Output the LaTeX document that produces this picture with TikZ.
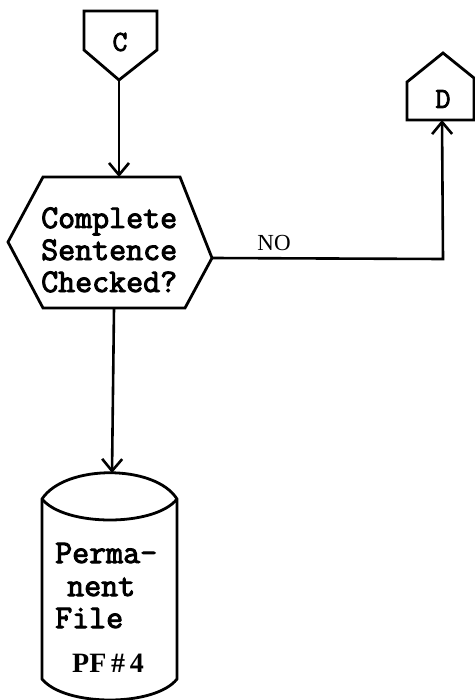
\documentclass[tikz,border=0pt]{standalone}
\usepackage{fontspec}
\setmainfont{Liberation Serif}
\newfontfamily\typer[FakeBold=3]{Latin Modern Mono}
\usetikzlibrary{arrows.meta}
\begin{document}
\begin{tikzpicture}[x=1pt,y=-1pt,
  outline/.style={line width=2.8pt,line join=miter},
  flow/.style={line width=2.6pt,-{Straight Barb[length=12pt,width=20pt,line width=2.6pt]}},
  typed/.style={font=\typer\fontsize{33}{31}\selectfont,inner sep=0pt,
    text height=20pt,text depth=6pt},
  conn/.style={font=\typer\fontsize{29}{29}\selectfont,inner sep=0pt},
  tag/.style={font=\fontsize{23}{23}\selectfont,inner sep=0pt},
  idtag/.style={font=\bfseries\fontsize{28}{28}\selectfont,inner sep=0pt}]
\useasboundingbox (0,0) rectangle (474,700);
\fill[white] (0,0) rectangle (474,700);

% off-page connector C
\draw[outline] (84,11) -- (157,11) -- (157,50) -- (119,80) -- (84,50) -- cycle;
\node[conn] (C) at (120,42) {C};
\coordinate (Cout) at (119,80);

% off-page connector D
\draw[outline] (407,120) -- (407,82) -- (443,53) -- (474,78) -- (474,120) -- cycle;
\node[conn] (D) at (443,99) {D};
\coordinate (Din) at (442,120);

% decision hexagon
\draw[outline] (43,177) -- (180,177) -- (212,258) -- (185,308) -- (43,308) -- (8,242) -- cycle;
\coordinate (Qtop) at (119,177);
\coordinate (Qright) at (212,258);
\coordinate (Qbot) at (114,308);
\node[typed,anchor=base west] (q1) at (41,228) {Complete};
\node[typed,anchor=base west] (q2) at (41,260) {Sentence};
\node[typed,anchor=base west] (q3) at (41,292) {Checked?};

% permanent file (cylinder)
\draw[outline] (42,499) .. controls (65,464) and (155,464) .. (177,499)
  -- (177,679) .. controls (155,707) and (65,707) .. (42,679) -- cycle;
\draw[outline] (42,499) .. controls (65,527) and (155,527) .. (177,499);
\coordinate (Ftop) at (112,473);
\node[typed,anchor=base west] (f1) at (55,563) {Perma-};
\node[typed,anchor=base west] (f2) at (67,596) {nent};
\node[typed,anchor=base west] (f3) at (55,628) {File};
\node[idtag,anchor=base] (f4) at (108,672) {PF\,\#\,4};

% connectors
\draw[flow] (Cout) -- (Qtop);
\draw[flow] (Qbot) -- (Ftop);
\coordinate (bend) at (443,259);
\draw[flow] (Qright) -- (bend) -- (Din);
\node[tag,anchor=base] (no) at (274,251) {NO};
\end{tikzpicture}
\end{document}
